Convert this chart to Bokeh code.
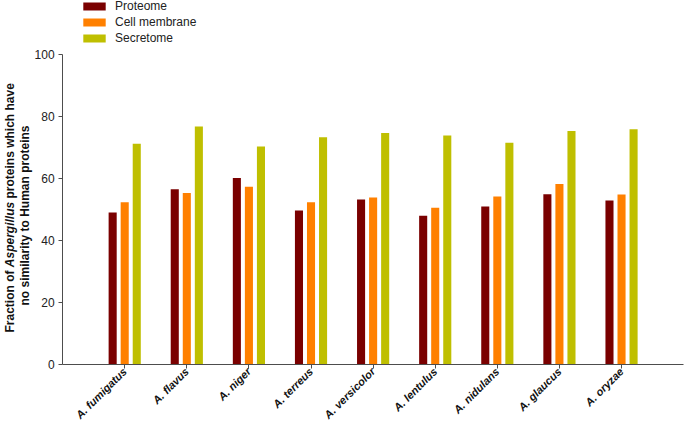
import math
from bokeh.plotting import figure
from bokeh.models import (ColumnDataSource, Range1d, FixedTicker, Legend, LegendItem, Label)
from bokeh.embed import file_html
from bokeh.resources import INLINE

species = ["A. fumigatus", "A. flavus", "A. niger", "A. terreus", "A. versicolor",
           "A. lentulus", "A. nidulans", "A. glaucus", "A. oryzae"]
proteome = [49.0, 56.5, 60.2, 49.7, 53.2, 48.0, 51.0, 54.9, 52.9]
cell_membrane = [52.3, 55.3, 57.3, 52.3, 53.9, 50.6, 54.2, 58.2, 54.8]
secretome = [71.2, 76.8, 70.3, 73.3, 74.7, 73.9, 71.5, 75.3, 75.9]
series_names = ["Proteome", "Cell membrane", "Secretome"]
series_colors = ["#7a0000", "#ff8000", "#bfbf00"]
y_ticks = [0, 20, 40, 60, 80, 100]

FONT = "Liberation Sans"
W, H = 685, 426
pos = list(range(1, len(species) + 1))

# the frame covers the whole canvas; both axes are pinned at 0 and bounded,
# leaving room around them for the titles, legend and rotated tick labels
p = figure(width=W, height=H, output_backend="svg", toolbar_location=None,
           x_range=Range1d(-1.0, 10.03), y_range=Range1d(-20.0, 117.42), title=None,
           min_border_left=0, min_border_right=0, min_border_top=0, min_border_bottom=0)
p.outline_line_color = None
p.grid.visible = False

offsets = [-0.194, 0.0, 0.194]
renderers = []
for vals, off, col in zip([proteome, cell_membrane, secretome], offsets, series_colors):
    src = ColumnDataSource(dict(x=[x + off for x in pos], top=vals))
    r = p.vbar(x="x", top="top", width=0.13, bottom=0, source=src,
               fill_color=col, line_color=None)
    renderers.append(r)

for ax in (p.xaxis[0], p.yaxis[0]):
    ax.axis_line_color = "#4d4d4d"
    ax.major_tick_line_color = "#4d4d4d"
    ax.minor_tick_line_color = None
    ax.major_tick_in = 0
    ax.major_tick_out = 4

p.yaxis.fixed_location = 0
p.yaxis.bounds = (0, 100)
p.yaxis.ticker = FixedTicker(ticks=y_ticks)
p.yaxis.major_label_text_font = FONT
p.yaxis.major_label_text_font_size = "12px"
p.yaxis.major_label_text_color = "#222222"
p.yaxis.major_label_standoff = 4

p.xaxis.fixed_location = 0
p.xaxis.bounds = (0, 10)
p.xaxis.ticker = FixedTicker(ticks=pos)
p.xaxis.major_label_overrides = {k: s for k, s in zip(pos, species)}
p.xaxis.major_label_orientation = math.pi / 4
p.xaxis.major_label_text_font = FONT
p.xaxis.major_label_text_font_style = "bold italic"
p.xaxis.major_label_text_font_size = "11px"
p.xaxis.major_label_text_color = "#111111"
p.xaxis.major_label_standoff = 1

legend = Legend(items=[LegendItem(label=n, renderers=[r]) for n, r in zip(series_names, renderers)],
                location=(80, 381), orientation="vertical",
                glyph_width=28, glyph_height=10, label_height=12, label_standoff=7,
                label_text_font=FONT, label_text_font_size="12px", label_text_color="#222222",
                spacing=2, padding=0, margin=0,
                border_line_alpha=0, background_fill_alpha=0)
p.add_layout(legend, "center")

# y-axis title: two lines, genus name in italics
lab_kw = dict(angle=math.pi / 2, text_font=FONT, text_font_size="12px",
              text_baseline="middle", text_color="#111111")
x1, x2 = -0.855, -0.613
p.add_layout(Label(x=x1, y=10.32, text="Fraction of", text_align="left",
                   text_font_style="bold", **lab_kw))
p.add_layout(Label(x=x1, y=31.39, text="Aspergillus", text_align="left",
                   text_font_style="bold italic", **lab_kw))
p.add_layout(Label(x=x1, y=53.55, text="proteins which have", text_align="left",
                   text_font_style="bold", **lab_kw))
p.add_layout(Label(x=x2, y=48.06, text="no similarity to Human proteins", text_align="center",
                   text_font_style="bold", **lab_kw))

open("out.html", "w").write(file_html(p, INLINE))
